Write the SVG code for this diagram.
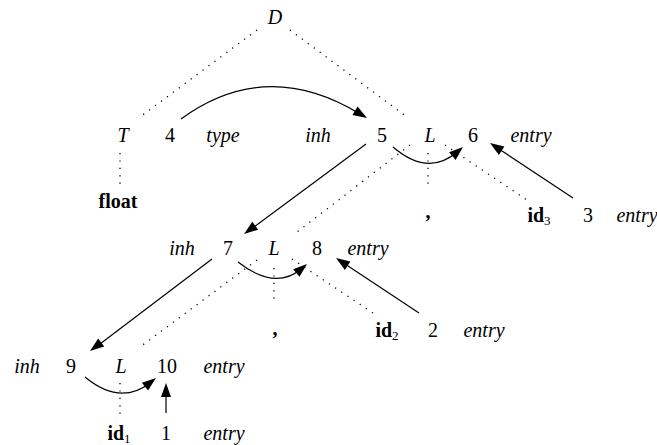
<svg xmlns="http://www.w3.org/2000/svg" width="657" height="445" viewBox="0 0 657 445">
<style>
text{font-size:20px;fill:#000;text-anchor:middle}
.r{font-family:"Liberation Serif"}
.i{font-family:"Liberation Serif";font-style:italic}
.b{font-family:"Liberation Serif";font-weight:bold}
.s{font-size:13px;font-weight:normal}
.dot{stroke:#000;stroke-width:1.3;stroke-dasharray:1.2 6.2;fill:none}
.arr{stroke:#000;stroke-width:1.2;fill:none}
.head{fill:#000;stroke:none}
</style>
<rect width="657" height="445" fill="#fff"/>
<g id="connectors">
<line class="dot" x1="257" y1="30" x2="140" y2="117"/>
<line class="dot" x1="290" y1="30" x2="407" y2="117"/>
<line class="dot" x1="120" y1="153" x2="120" y2="184"/>
<line class="dot" x1="410" y1="145" x2="297" y2="232"/>
<line class="dot" x1="428" y1="153" x2="428" y2="184"/>
<line class="dot" x1="445" y1="145" x2="527" y2="200"/>
<line class="dot" x1="257" y1="260" x2="140" y2="347"/>
<line class="dot" x1="274" y1="268" x2="274" y2="300"/>
<line class="dot" x1="292" y1="259" x2="373" y2="313"/>
<line class="dot" x1="120" y1="383" x2="120" y2="415"/>
<path class="arr" d="M181,119 Q266,57 360,114"/>
<path class="head" d="M367,118 L352.4,115 L357.6,106.5 Z"/>
<line class="arr" x1="366" y1="144" x2="250" y2="230"/>
<path class="head" d="M244,234 L252.3,221.7 L258.2,229.7 Z"/>
<path class="arr" d="M393,147 Q428,177 457,152"/>
<path class="head" d="M463,147 L455.6,159.9 L449.1,152.3 Z"/>
<line class="arr" x1="573" y1="198" x2="496" y2="147"/>
<path class="head" d="M490,143 L504.4,146.6 L498.9,154.9 Z"/>
<line class="arr" x1="212" y1="259" x2="96" y2="347"/>
<path class="head" d="M90,351 L98.2,338.6 L104.2,346.6 Z"/>
<path class="arr" d="M238,262 Q275,291 301,269"/>
<path class="head" d="M307,264 L299.5,276.8 L293.1,269.2 Z"/>
<line class="arr" x1="419" y1="313" x2="342" y2="262"/>
<path class="head" d="M336,258 L350.4,261.6 L344.9,269.9 Z"/>
<path class="arr" d="M85,377 Q120,406 150,383"/>
<path class="head" d="M156,378 L148,390.5 L141.9,382.7 Z"/>
<line class="arr" x1="166" y1="413" x2="166" y2="390"/>
<path class="head" d="M166,383 L161,397 L171,397 Z"/>
</g>
<g id="node-D"><text class="i" x="275" y="24">D</text></g>
<g id="node-T"><text class="i" x="123" y="142">T</text><text class="r" x="170" y="142">4</text><text class="i" x="223" y="142">type</text></g>
<g id="node-float"><text class="b" x="118" y="208">float</text></g>
<g id="node-L1"><text class="i" x="318" y="142">inh</text><text class="r" x="382" y="142">5</text><text class="i" x="430" y="142">L</text><text class="r" x="473" y="142">6</text><text class="i" x="531" y="142">entry</text></g>
<g id="node-comma1"><text class="b" x="428" y="218">,</text></g>
<g id="node-id3"><text class="b" x="539" y="222">id<tspan class="s" dy="3">3</tspan></text><text class="r" x="588" y="222">3</text><text class="i" x="637" y="222">entry</text></g>
<g id="node-L2"><text class="i" x="182" y="255">inh</text><text class="r" x="228" y="255">7</text><text class="i" x="274" y="255">L</text><text class="r" x="317" y="255">8</text><text class="i" x="368" y="255">entry</text></g>
<g id="node-comma2"><text class="b" x="275" y="335">,</text></g>
<g id="node-id2"><text class="b" x="387" y="337">id<tspan class="s" dy="3">2</tspan></text><text class="r" x="433" y="337">2</text><text class="i" x="484" y="337">entry</text></g>
<g id="node-L3"><text class="i" x="27" y="373">inh</text><text class="r" x="71" y="373">9</text><text class="i" x="121" y="373">L</text><text class="r" x="167" y="373">10</text><text class="i" x="224" y="373">entry</text></g>
<g id="node-id1"><text class="b" x="119" y="440">id<tspan class="s" dy="3">1</tspan></text><text class="r" x="166" y="440">1</text><text class="i" x="224" y="440">entry</text></g>
</svg>
